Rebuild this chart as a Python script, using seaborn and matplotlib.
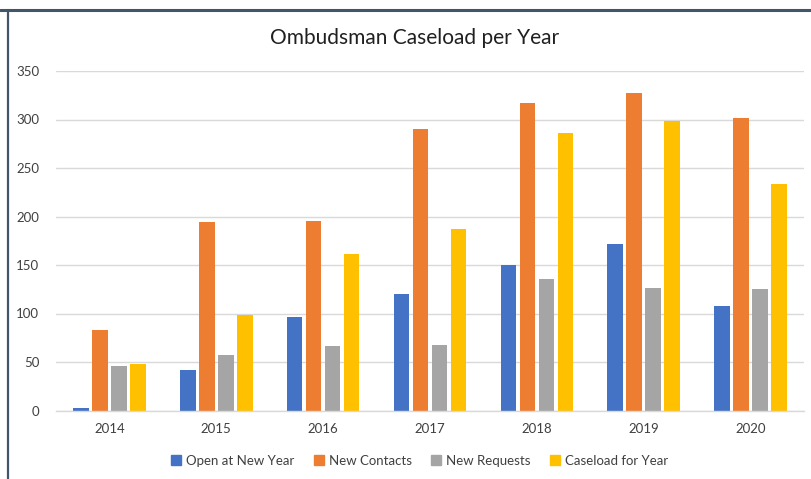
import matplotlib
matplotlib.use("Agg")
import matplotlib.pyplot as plt
import seaborn as sns
import pandas as pd
from matplotlib.lines import Line2D

years = ["2014", "2015", "2016", "2017", "2018", "2019", "2020"]
open_at_new_year = [3, 42, 96, 120, 150, 172, 108]
new_contacts = [83, 194, 195, 290, 317, 327, 302]
new_requests = [46, 57, 66, 68, 136, 126, 125]
caseload_for_year = [48, 98, 161, 187, 286, 298, 233]
series_names = ["Open at New Year", "New Contacts", "New Requests", "Caseload for Year"]
colors = ["#4472C4", "#ED7D31", "#A5A5A5", "#FFC000"]

rows = []
for name, vals in zip(series_names, [open_at_new_year, new_contacts, new_requests, caseload_for_year]):
    for y, v in zip(years, vals):
        rows.append({"Year": y, "Series": name, "Value": v})
df = pd.DataFrame(rows)

sns.set_theme(style="white")
plt.rcParams['font.family'] = ['Lato', 'DejaVu Sans']

fig = plt.figure(figsize=(8.12, 4.79), dpi=100)
ax = fig.add_axes([56/812, (479-410.5)/479, (804-56)/812, (410.5-71)/479])

sns.barplot(data=df, x="Year", y="Value", hue="Series", order=years, hue_order=series_names,
            palette=colors, width=0.71, gap=0.18, ax=ax, legend=False, saturation=1,
            edgecolor="none")

ax.set_ylim(0, 350)
ax.set_yticks(range(0, 351, 50))
ax.set_xlim(-0.5, 6.5)
ax.yaxis.grid(True, color="#D9D9D9", linewidth=1.0)
ax.set_axisbelow(True)
for s in ["top", "right", "left"]:
    ax.spines[s].set_visible(False)
ax.spines["bottom"].set_color("#D9D9D9")
ax.spines["bottom"].set_linewidth(1.0)
ax.set_xlabel("")
ax.set_ylabel("")
ax.tick_params(axis="both", length=0, labelsize=9.5, labelcolor="#404040")
ax.tick_params(axis="y", pad=12)
ax.tick_params(axis="x", pad=9)

fig.text(415/812, 1 - 38/479, "Ombudsman Caseload per Year", ha="center", va="center",
         fontsize=15, color="#202020")

handles = [Line2D([0], [0], marker="s", linestyle="none", markersize=6.5,
                  markerfacecolor=c, markeredgecolor=c) for c in colors]
fig.legend(handles, series_names, loc="center", bbox_to_anchor=(420/812, 1 - 461/479),
           ncol=4, frameon=False, fontsize=9.5, handlelength=0.7, handletextpad=0.4,
           columnspacing=1.5, labelcolor="#404040")

# outer frame lines (top and left)
fig.add_artist(Line2D([0, 1], [1 - 10/479, 1 - 10/479], transform=fig.transFigure,
                      color="#44546A", linewidth=2.2))
fig.add_artist(Line2D([7.5/812, 7.5/812], [0, 1 - 10/479], transform=fig.transFigure,
                      color="#44546A", linewidth=1.6))

fig.savefig("out.png", dpi=100)
